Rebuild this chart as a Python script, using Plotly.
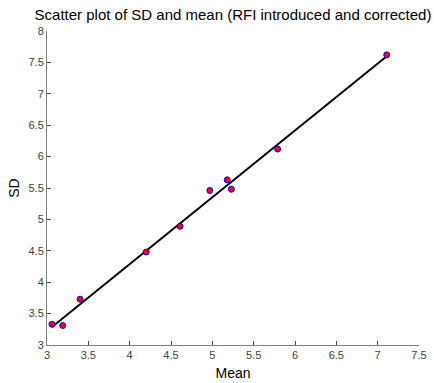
import numpy as np
import plotly.graph_objects as go

mean_vals = [3.06, 3.19, 3.40, 4.20, 4.61, 4.97, 5.18, 5.23, 5.79, 7.11]
sd_vals = [3.33, 3.31, 3.73, 4.48, 4.89, 5.46, 5.63, 5.48, 6.12, 7.62]

x = np.array(mean_vals)
y = np.array(sd_vals)
slope, intercept = np.polyfit(x, y, 1)
fit_x = [x.min(), x.max()]
fit_y = [slope * v + intercept for v in fit_x]

fig = go.Figure()
fig.add_trace(go.Scatter(x=fit_x, y=fit_y, mode="lines",
                         line=dict(color="black", width=2), showlegend=False))
fig.add_trace(go.Scatter(x=mean_vals, y=sd_vals, mode="markers",
                         marker=dict(color="red", size=6, line=dict(color="blue", width=1)),
                         showlegend=False))

font_family = "Liberation Sans, Arial"
axis_common = dict(showgrid=False, zeroline=False, showline=True, linecolor="#808080",
                   linewidth=1, ticks="inside", ticklen=4, tickcolor="#404040",
                   automargin=False,
                   tickfont=dict(family=font_family, size=11, color="#404040"))
fig.update_layout(
    width=434, height=383,
    margin=dict(l=47, r=15, t=31, b=38),
    plot_bgcolor="white", paper_bgcolor="white",
    title=dict(text="Scatter plot of SD and mean (RFI introduced and corrected)",
               x=0.5, xanchor="center", xref="paper", y=0.975, yanchor="top",
               font=dict(family=font_family, size=15, color="black")),
    xaxis=dict(range=[3, 7.5], dtick=0.5, title=dict(text="Mean", standoff=7,
               font=dict(family=font_family, size=14, color="black")), **axis_common),
    yaxis=dict(range=[3, 8], dtick=0.5, title=dict(text="SD", standoff=5,
               font=dict(family=font_family, size=14, color="black")), **axis_common),
)
fig.write_html("out.html")
